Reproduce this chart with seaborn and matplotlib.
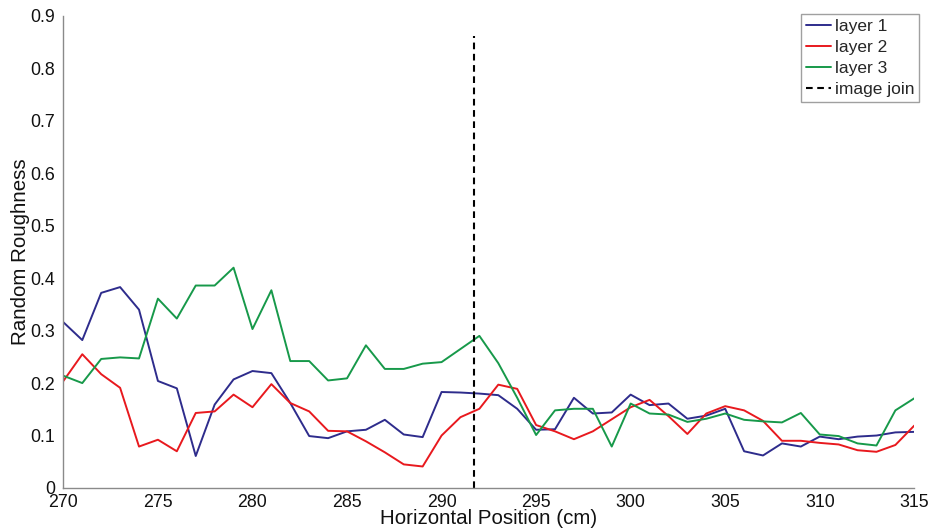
import numpy as np
import pandas as pd
import matplotlib
matplotlib.use("Agg")
import matplotlib.pyplot as plt
import seaborn as sns

# Horizontal positions (cm)
position = list(range(270, 316))

layer1 = [0.316, 0.282, 0.372, 0.383, 0.340, 0.204, 0.190, 0.061, 0.159, 0.207,
          0.223, 0.219, 0.162, 0.099, 0.095, 0.108, 0.111, 0.130, 0.102, 0.097,
          0.183, 0.182, 0.180, 0.177, 0.151, 0.111, 0.112, 0.172, 0.142, 0.144,
          0.178, 0.158, 0.161, 0.132, 0.138, 0.151, 0.070, 0.062, 0.085, 0.079,
          0.098, 0.093, 0.098, 0.100, 0.106, 0.107]

layer2 = [0.204, 0.255, 0.217, 0.191, 0.079, 0.092, 0.070, 0.143, 0.146, 0.178,
          0.154, 0.198, 0.162, 0.146, 0.109, 0.108, 0.089, 0.068, 0.045, 0.041,
          0.100, 0.135, 0.151, 0.197, 0.189, 0.120, 0.108, 0.093, 0.108, 0.131,
          0.154, 0.168, 0.137, 0.103, 0.142, 0.156, 0.148, 0.128, 0.090, 0.090,
          0.086, 0.083, 0.072, 0.069, 0.082, 0.119]

layer3 = [0.214, 0.200, 0.246, 0.249, 0.247, 0.361, 0.323, 0.386, 0.386, 0.420,
          0.303, 0.377, 0.242, 0.242, 0.205, 0.209, 0.272, 0.227, 0.227, 0.237,
          0.240, 0.265, 0.290, 0.238, 0.172, 0.101, 0.148, 0.151, 0.151, 0.079,
          0.161, 0.142, 0.140, 0.126, 0.132, 0.142, 0.130, 0.127, 0.125, 0.143,
          0.102, 0.099, 0.085, 0.081, 0.148, 0.171]

layer_names = ["layer 1", "layer 2", "layer 3"]

# Position of the join between the two stitched images
join_x = 291.7
join_top = 0.861

x_ticks = [270, 275, 280, 285, 290, 295, 300, 305, 310, 315]
y_ticks = [0, 0.1, 0.2, 0.3, 0.4, 0.5, 0.6, 0.7, 0.8, 0.9]

df = pd.DataFrame({
    "position": position * 3,
    "roughness": layer1 + layer2 + layer3,
    "layer": np.repeat(layer_names, len(position)),
})

sns.set_style("white")
plt.rcParams["font.family"] = ["Liberation Sans", "DejaVu Sans"]
plt.rcParams["xtick.direction"] = "in"
plt.rcParams["ytick.direction"] = "in"

fig = plt.figure(figsize=(9.32, 5.31), dpi=100)
ax = fig.add_axes([0.068, 0.081, 0.913, 0.889])

palette = {"layer 1": "#2e2c8c", "layer 2": "#e8191e", "layer 3": "#17994a"}
sns.lineplot(data=df, x="position", y="roughness", hue="layer",
             palette=palette, linewidth=1.4, ax=ax, legend=True)

ax.plot([join_x, join_x], [0, join_top], color="black", linestyle=(0, (3.2, 2.2)),
        linewidth=1.5, label="image join")

ax.set_xlim(270, 315)
ax.set_ylim(0, 0.9)
ax.set_xticks(x_ticks)
ax.set_yticks(y_ticks)
ax.set_yticklabels(["0"] + [f"{v:.1f}" for v in y_ticks[1:]])
ax.tick_params(axis="both", which="both", direction="in", length=5,
               color="#888888", labelsize=12.8, labelcolor="#111111")
ax.tick_params(axis="x", pad=4)
ax.tick_params(axis="y", pad=6)

for side in ["top", "right"]:
    ax.spines[side].set_visible(False)
for side in ["left", "bottom"]:
    ax.spines[side].set_color("#8a8a8a")
    ax.spines[side].set_linewidth(1.0)

ax.set_xlabel("Horizontal Position (cm)", fontsize=14.8, labelpad=-1, color="#111111")
ax.set_ylabel("Random Roughness", fontsize=14.8, labelpad=0, color="#111111")

handles, labels = ax.get_legend_handles_labels()
leg = ax.legend(handles, labels, loc="upper right", bbox_to_anchor=(1.006, 1.004),
                fontsize=12.5, frameon=True, fancybox=False, handlelength=1.45,
                handletextpad=0.2, borderpad=0.3, labelspacing=0.33,
                borderaxespad=0.0)
leg.get_frame().set_edgecolor("#888888")
leg.get_frame().set_linewidth(1.0)

fig.savefig("out.png", dpi=100, facecolor="white")
